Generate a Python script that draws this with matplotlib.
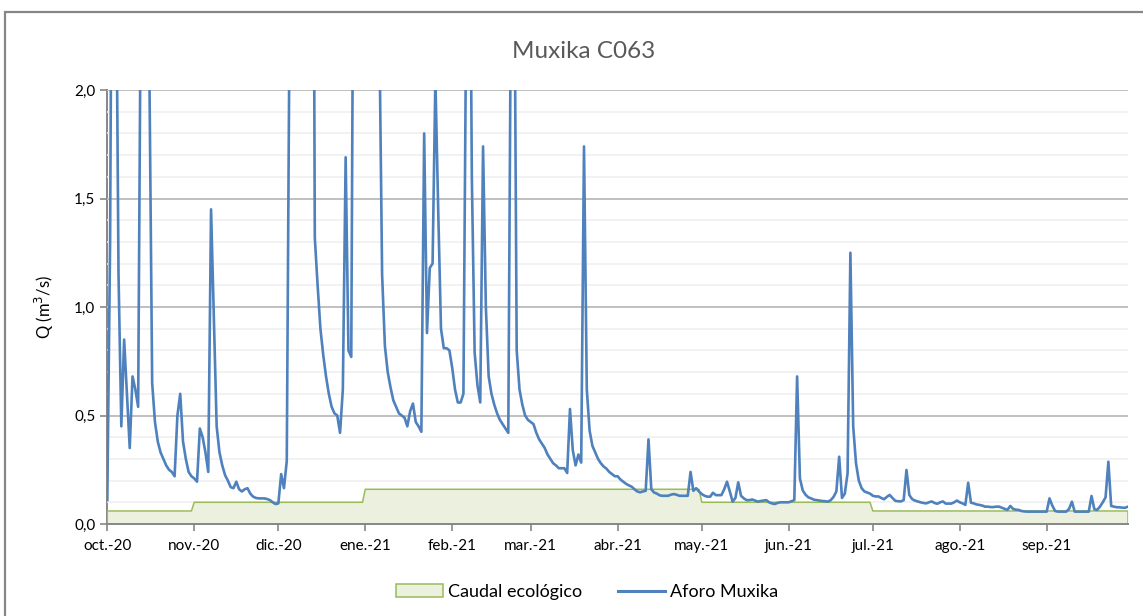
import numpy as np
import pandas as pd
import matplotlib
matplotlib.use("Agg")
import matplotlib.pyplot as plt
from matplotlib.patches import Rectangle, Patch
from matplotlib.lines import Line2D

plt.rcParams['font.family'] = ['Lato', 'DejaVu Sans']

# daily flow (m3/s), one list per month, oct-2020 .. sep-2021
q_oct = [0.11, 1.3, 4.0, 2.9, 1.15, 0.45, 0.85, 0.6, 0.35, 0.68,
         0.62, 0.54, 2.6, 5.0, 3.2, 2.1, 0.65, 0.47, 0.38, 0.33,
         0.30, 0.27, 0.25, 0.24, 0.22, 0.50, 0.60, 0.38, 0.30, 0.24,
         0.22]
q_nov = [0.21, 0.195, 0.44, 0.40, 0.33, 0.24, 1.45, 0.95, 0.45, 0.33,
         0.27, 0.225, 0.20, 0.17, 0.165, 0.195, 0.16, 0.15, 0.16, 0.165,
         0.14, 0.126, 0.12, 0.118, 0.118, 0.118, 0.115, 0.11, 0.10, 0.092]
q_dic = [0.095, 0.23, 0.165, 0.29, 2.3, 6.0, 9.0, 8.0, 7.0, 6.5,
         6.0, 5.5, 5.0, 1.32, 1.1, 0.9, 0.78, 0.68, 0.60, 0.54,
         0.51, 0.50, 0.42, 0.62, 1.69, 0.80, 0.77, 3.5, 6.0, 5.0,
         4.5]
q_ene = [6.5, 5.0, 4.0, 3.5, 3.0, 2.3, 1.15, 0.82, 0.70, 0.63,
         0.57, 0.54, 0.51, 0.50, 0.49, 0.45, 0.52, 0.555, 0.47, 0.45,
         0.425, 1.80, 0.88, 1.18, 1.20, 2.05, 1.45, 0.90, 0.81, 0.81,
         0.80]
q_feb = [0.72, 0.62, 0.56, 0.56, 0.60, 2.4, 3.5, 1.6, 0.79, 0.64,
         0.56, 1.74, 1.0, 0.68, 0.60, 0.55, 0.51, 0.48, 0.46, 0.44,
         0.42, 2.6, 3.0, 0.8, 0.62, 0.55, 0.50, 0.48]
q_mar = [0.47, 0.46, 0.42, 0.39, 0.37, 0.35, 0.32, 0.30, 0.28, 0.27,
         0.257, 0.257, 0.257, 0.235, 0.53, 0.34, 0.27, 0.32, 0.283, 1.74,
         0.62, 0.43, 0.36, 0.33, 0.30, 0.28, 0.265, 0.255, 0.24, 0.23,
         0.22]
q_abr = [0.22, 0.205, 0.195, 0.185, 0.178, 0.172, 0.16, 0.15, 0.146, 0.15,
         0.153, 0.39, 0.16, 0.145, 0.14, 0.132, 0.13, 0.13, 0.13, 0.135,
         0.138, 0.135, 0.13, 0.13, 0.13, 0.13, 0.24, 0.153, 0.165, 0.15]
q_may = [0.138, 0.13, 0.126, 0.126, 0.144, 0.133, 0.133, 0.133, 0.16, 0.195,
         0.15, 0.103, 0.12, 0.192, 0.13, 0.118, 0.11, 0.11, 0.113, 0.108,
         0.103, 0.106, 0.108, 0.11, 0.10, 0.095, 0.092, 0.097, 0.10, 0.10,
         0.10]
q_jun = [0.10, 0.105, 0.11, 0.68, 0.21, 0.155, 0.135, 0.123, 0.118, 0.112,
         0.11, 0.108, 0.106, 0.105, 0.103, 0.11, 0.125, 0.15, 0.31, 0.12,
         0.14, 0.234, 1.25, 0.45, 0.28, 0.2, 0.165, 0.15, 0.145, 0.14]
q_jul = [0.13, 0.127, 0.127, 0.12, 0.114, 0.125, 0.134, 0.12, 0.107, 0.105,
         0.104, 0.11, 0.249, 0.134, 0.115, 0.108, 0.104, 0.10, 0.097, 0.095,
         0.10, 0.104, 0.097, 0.093, 0.10, 0.104, 0.094, 0.094, 0.094, 0.10,
         0.108]
q_ago = [0.10, 0.095, 0.088, 0.19, 0.098, 0.095, 0.09, 0.088, 0.085, 0.08,
         0.08, 0.078, 0.078, 0.08, 0.08, 0.075, 0.07, 0.065, 0.083, 0.07,
         0.066, 0.065, 0.06, 0.058, 0.057, 0.057, 0.057, 0.057, 0.057, 0.057,
         0.057]
q_sep = [0.057, 0.118, 0.085, 0.06, 0.057, 0.057, 0.057, 0.057, 0.07, 0.103,
         0.057, 0.057, 0.057, 0.057, 0.057, 0.057, 0.129, 0.068, 0.065, 0.08,
         0.10, 0.123, 0.287, 0.083, 0.08, 0.077, 0.077, 0.075, 0.075, 0.08]

# caudal ecologico: value from each start date on
eco_inicio = ['2020-10-01', '2020-11-01', '2021-01-01', '2021-05-01', '2021-07-01']
eco_valor = [0.06, 0.10, 0.16, 0.10, 0.06]

meses = ['oct.-20', 'nov.-20', 'dic.-20', 'ene.-21', 'feb.-21', 'mar.-21',
         'abr.-21', 'may.-21', 'jun.-21', 'jul.-21', 'ago.-21', 'sep.-21']

q = q_oct + q_nov + q_dic + q_ene + q_feb + q_mar + q_abr + q_may + q_jun + q_jul + q_ago + q_sep
fechas = pd.date_range('2020-10-01', periods=len(q), freq='D')
eco = pd.Series(eco_valor, index=pd.to_datetime(eco_inicio)).reindex(fechas, method='ffill').values

fig = plt.figure(figsize=(11.43, 6.16), dpi=100)
ax = fig.add_axes([107.3 / 1143, 92 / 616, (1128 - 107.3) / 1143, 434 / 616])

# chart border
fig.patches.append(Rectangle((5 / 1143, -0.05), 1.2, 1 - 12 / 616 + 0.05,
                             transform=fig.transFigure, fill=False,
                             edgecolor='#868686', linewidth=1.6))

ax.fill_between(fechas, 0, eco, color='#EBF1DE', linewidth=0)
xe = [fechas[0]] + list(fechas) + [fechas[-1]]
ye = [0] + list(eco) + [0]
ax.plot(xe, ye, color='#9BBB59', linewidth=1.1)
ax.plot(fechas, q, color='#4F81BD', linewidth=1.9)

ax.set_xlim(fechas[0], fechas[-1])
ax.set_ylim(0, 2.0)

ticks = pd.date_range('2020-10-01', periods=12, freq='MS')
ax.set_xticks(ticks)
ax.set_xticklabels(meses, fontsize=11)
ax.set_yticks([0, 0.5, 1.0, 1.5, 2.0])
ax.set_yticklabels(['0,0', '0,5', '1,0', '1,5', '2,0'], fontsize=11)
ax.set_yticks(np.arange(0, 2.01, 0.1), minor=True)
ax.tick_params(axis='y', which='minor', length=0)
ax.tick_params(axis='both', which='major', length=5, color='#868686', width=1.2)
ax.tick_params(axis='x', pad=6)

ax.grid(True, which='major', axis='y', color='#C0C0C0', linewidth=1.4)
ax.grid(True, which='minor', axis='y', color='#F0F0F0', linewidth=1.2)
ax.set_axisbelow(True)

for s in ['top', 'right']:
    ax.spines[s].set_visible(False)
for s in ['left', 'bottom']:
    ax.spines[s].set_color('#868686')
    ax.spines[s].set_linewidth(1.4)
ax.spines['left'].set_zorder(0.5)

ax.set_ylabel('Q (m$^3$/s)', fontsize=12, labelpad=13)

fig.text(583.5 / 1143, 1 - 52 / 616, 'Muxika C063', ha='center', va='center',
         fontsize=17.5, color='#595959')

handles = [Patch(facecolor='#EBF1DE', edgecolor='#9BBB59', linewidth=1.1),
           Line2D([0], [0], color='#4F81BD', linewidth=2.2)]
fig.legend(handles, ['Caudal ecológico', 'Aforo Muxika'], loc='center',
           bbox_to_anchor=(587 / 1143, 1 - 592 / 616), ncol=2, frameon=False,
           fontsize=13, handlelength=2.6, handletextpad=0.25, columnspacing=2.0)

fig.savefig('out.png', dpi=100)
